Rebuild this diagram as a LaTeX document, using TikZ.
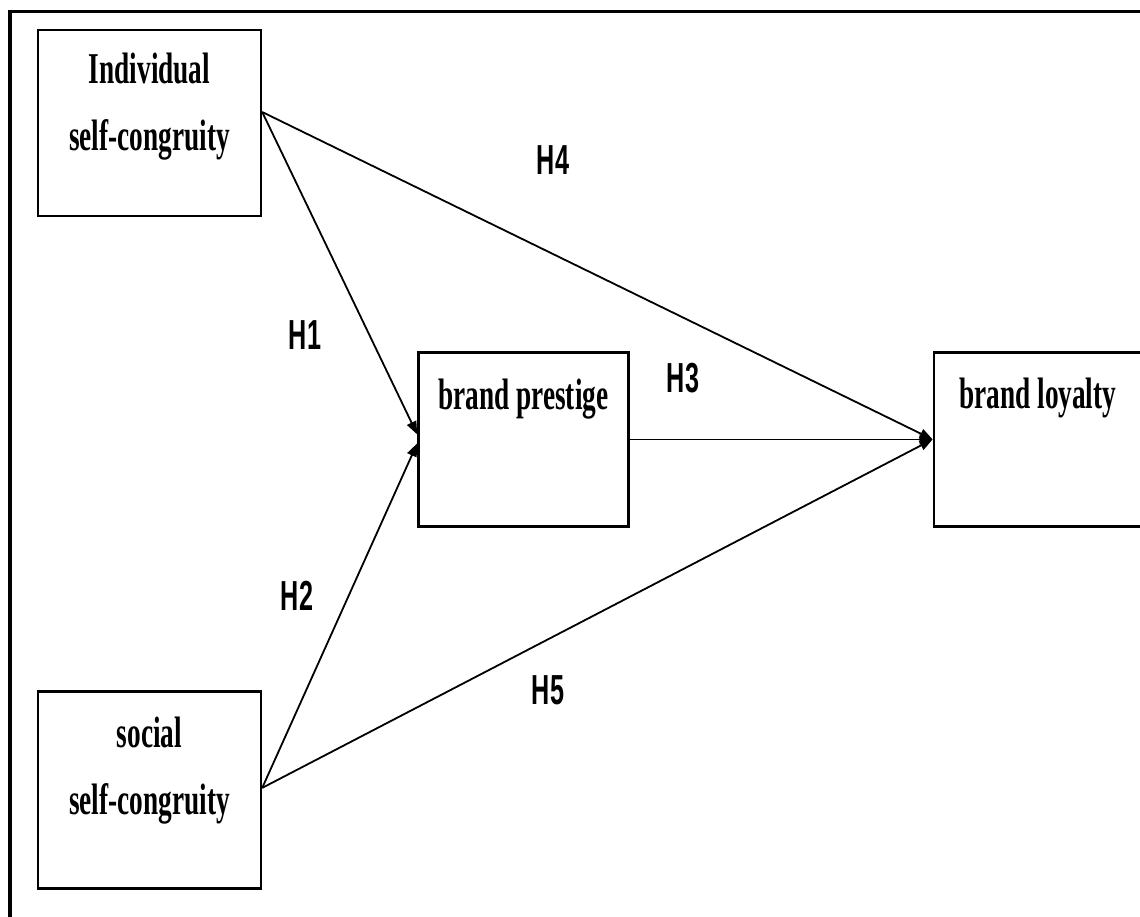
\documentclass[tikz,border=0pt]{standalone}
\usepackage{fontspec}
\usepackage{tikz}
\usetikzlibrary{arrows.meta, positioning}
\newfontfamily\boxfont[FakeStretch=0.62]{Liberation Serif}
\newfontfamily\hypfont[FakeStretch=0.6]{Liberation Sans}

\begin{document}
\begin{tikzpicture}[
  x=0.5pt, y=-0.5pt,
  box/.style={draw, line width=1.2pt, align=center, inner sep=0pt,
              font=\boxfont\bfseries\fontsize{22pt}{33.5pt}\selectfont},
  hyp/.style={font=\hypfont\bfseries\fontsize{21pt}{24pt}\selectfont},
  arr/.style={-{Triangle[length=6.5pt,width=5pt]}, line width=0.9pt}
]
\useasboundingbox (0,0) rectangle (1140,916);
\draw[line width=1.6pt] (10,930) -- (10,11.5) -- (1150,11.5);

\node[box, minimum width=111.5pt, text height=60pt, text depth=33pt] (ind) at (149.5,123) {Individual\\self-congruity};
\node[box, minimum width=111.5pt, text height=61.5pt, text depth=37pt, below=236.5pt of ind] (soc) {social\\self-congruity};
\node[box, minimum width=105pt, text height=28.5pt, text depth=58.5pt, below right=67pt and 77.5pt of ind] (pres) {brand prestige};
\node[box, minimum width=104pt, text height=28pt, text depth=59pt, right=151.5pt of pres] (loy) {brand loyalty};

\node[hyp] (h4) at (553,160) {H4};
\node[hyp] (h1) at (305,335) {H1};
\node[hyp] (h3) at (683,378) {H3};
\node[hyp] (h2) at (297,596) {H2};
\node[hyp] (h5) at (548,690) {H5};

\draw[arr] ([yshift=5.5pt]ind.east) -- (loy.west);
\draw[arr] ([yshift=5.5pt]ind.east) -- ([yshift=2.5pt]pres.west);
\draw[arr] ([yshift=1pt]soc.east) -- ([yshift=-2pt]pres.west);
\draw[arr] ([yshift=1pt]soc.east) -- (loy.west);
\draw[arr] (pres) -- (loy);
\end{tikzpicture}
\end{document}
